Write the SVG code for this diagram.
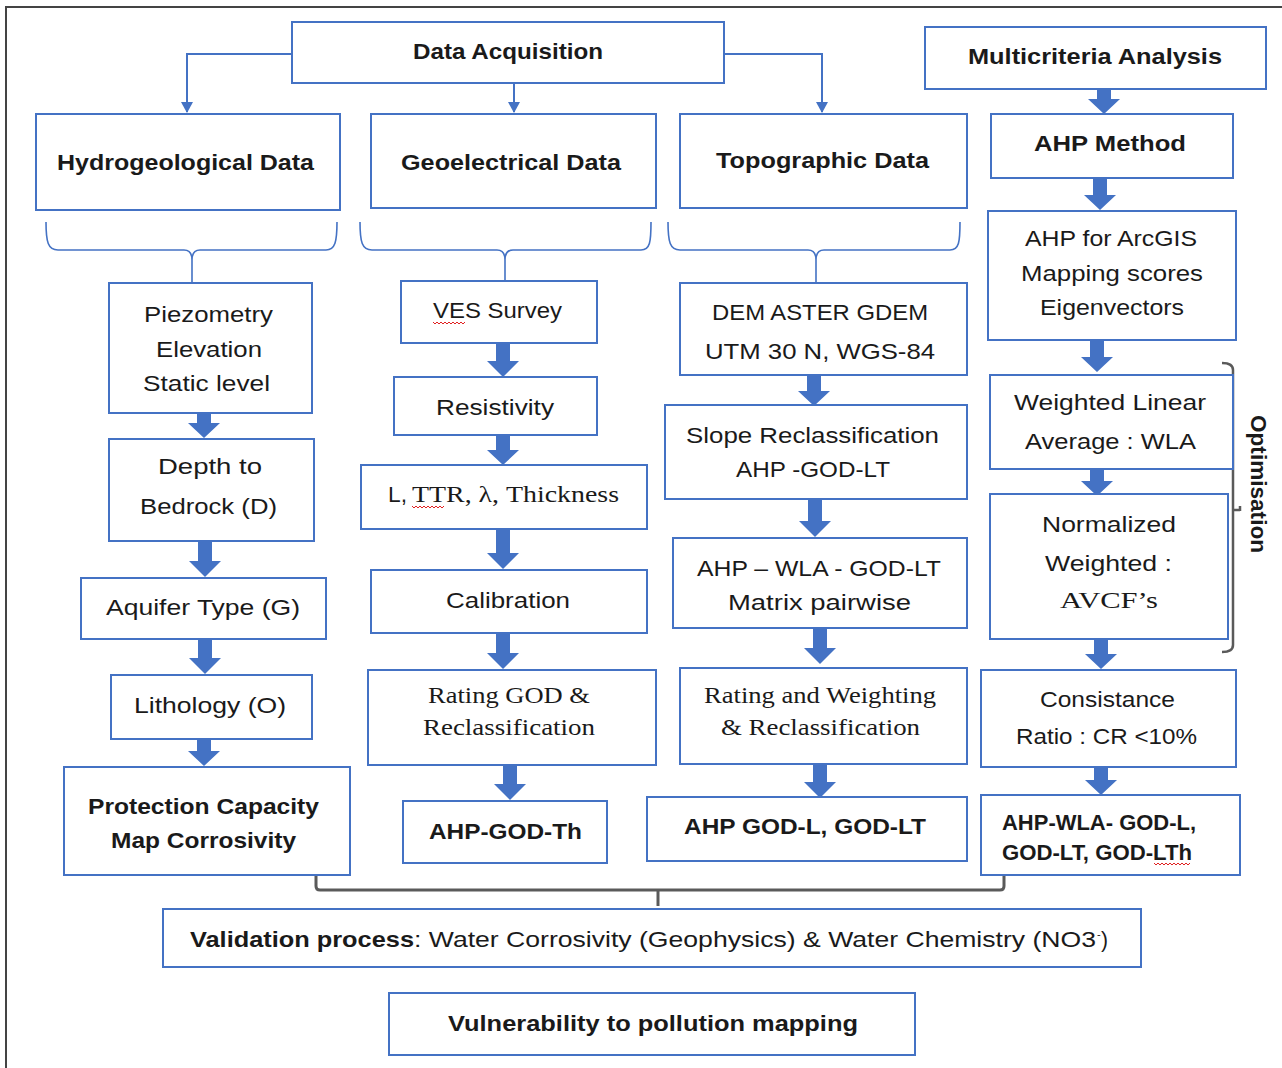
<svg xmlns="http://www.w3.org/2000/svg" width="1282" height="1068" viewBox="0 0 1282 1068">
<defs>
<style>
.box{fill:#fff;stroke:#4472C4;stroke-width:2}
.t{font-family:"Liberation Sans",Arial,sans-serif;font-size:22px;fill:#1a1a1a}
.b{font-weight:bold}
.s{font-family:"Liberation Serif","Times New Roman",serif;font-size:23px;fill:#1a1a1a}
.ba{fill:#4472C4}
.thin{fill:none;stroke:#4472C4;stroke-width:2}
.brace{fill:none;stroke:#4472C4;stroke-width:1.6}
.gray{fill:none;stroke:#5a5a5a;stroke-width:3;stroke-linejoin:round}
.sq{fill:none;stroke:#e02020;stroke-width:1}
</style>
<marker id="ah" markerWidth="12" markerHeight="12" refX="10" refY="6" orient="auto" markerUnits="userSpaceOnUse">
<path d="M0,0 L11,6 L0,12 Z" fill="#4472C4"/>
</marker>
</defs>
<rect width="1282" height="1068" fill="#fff"/>
<path d="M6,1068 L6,7 L1282,7" fill="none" stroke="#444" stroke-width="2"/>

<g id="connectors">
<path class="thin" d="M292,54 L187,54 L187,112" marker-end="url(#ah)"/>
<path class="thin" d="M514,84 L514,112" marker-end="url(#ah)"/>
<path class="thin" d="M724,54 L822,54 L822,112" marker-end="url(#ah)"/>
<path class="brace" d="M46,222 C46,242 48,250 58,250 L184,250 Q192,250 192,260 L192,283 M192,260 Q192,250 200,250 L326,250 C335,250 337,242 337,222"/>
<path class="brace" d="M360,222 C360,242 362,250 372,250 L497,250 Q505,250 505,260 L505,281 M505,260 Q505,250 513,250 L641,250 C650,250 651,242 651,222"/>
<path class="brace" d="M668,222 C668,242 670,250 680,250 L808,250 Q816,250 816,260 L816,283 M816,260 Q816,250 824,250 L950,250 C959,250 960,242 960,222"/>
<path class="ba" d="M1097,89 L1111,89 L1111,99 L1120,99 L1104,114 L1088,99 L1097,99 Z"/>
<path class="ba" d="M1093,178 L1107,178 L1107,195 L1116,195 L1100,210 L1084,195 L1093,195 Z"/>
<path class="ba" d="M1090,341 L1104,341 L1104,357 L1113,357 L1097,372 L1081,357 L1090,357 Z"/>
<path class="ba" d="M1090,469 L1104,469 L1104,481 L1113,481 L1097,496 L1081,481 L1090,481 Z"/>
<path class="ba" d="M1094,639 L1108,639 L1108,654 L1117,654 L1101,669 L1085,654 L1094,654 Z"/>
<path class="ba" d="M1094,767 L1108,767 L1108,780 L1117,780 L1101,795 L1085,780 L1094,780 Z"/>
<path class="ba" d="M197,413 L211,413 L211,423 L220,423 L204,438 L188,423 L197,423 Z"/>
<path class="ba" d="M198,541 L212,541 L212,561 L221,561 L205,577 L189,561 L198,561 Z"/>
<path class="ba" d="M198,639 L212,639 L212,658 L221,658 L205,674 L189,658 L198,658 Z"/>
<path class="ba" d="M197,739 L211,739 L211,751 L220,751 L204,766 L188,751 L197,751 Z"/>
<path class="ba" d="M496,343 L510,343 L510,361 L519,361 L503,377 L487,361 L496,361 Z"/>
<path class="ba" d="M496,435 L510,435 L510,450 L519,450 L503,465 L487,450 L496,450 Z"/>
<path class="ba" d="M496,529 L510,529 L510,553 L519,553 L503,569 L487,553 L496,553 Z"/>
<path class="ba" d="M496,633 L510,633 L510,653 L519,653 L503,669 L487,653 L496,653 Z"/>
<path class="ba" d="M503,765 L517,765 L517,784 L526,784 L510,800 L494,784 L503,784 Z"/>
<path class="ba" d="M807,375 L821,375 L821,391 L830,391 L814,406 L798,391 L807,391 Z"/>
<path class="ba" d="M808,499 L822,499 L822,521 L831,521 L815,537 L799,521 L808,521 Z"/>
<path class="ba" d="M813,628 L827,628 L827,648 L836,648 L820,664 L804,648 L813,648 Z"/>
<path class="ba" d="M813,764 L827,764 L827,782 L836,782 L820,798 L804,782 L813,782 Z"/>
<path class="gray" d="M316,875 L316,886 Q316,890 320,890 L1000,890 Q1004,890 1004,886 L1004,875"/>
<path class="gray" d="M658,890 L658,906"/>
<path fill="none" stroke="#5a5a5a" stroke-width="2.5" d="M1222,363 Q1233,363 1233,370 L1233,645 Q1233,652 1222,652 M1233,510 L1240,510 M1240,506 L1240,511"/>
</g>

<g id="data-acquisition"><rect class="box" x="292" y="22" width="432" height="61"/><text class="t b" x="413" y="59" textLength="190" lengthAdjust="spacingAndGlyphs">Data Acquisition</text></g>
<g id="multicriteria"><rect class="box" x="925" y="27" width="341" height="62"/><text class="t b" x="968" y="64" textLength="254" lengthAdjust="spacingAndGlyphs">Multicriteria  Analysis</text></g>
<g id="hydro"><rect class="box" x="36" y="114" width="304" height="96"/><text class="t b" x="57" y="170" textLength="257" lengthAdjust="spacingAndGlyphs">Hydrogeological  Data</text></g>
<g id="geoelec"><rect class="box" x="371" y="114" width="285" height="94"/><text class="t b" x="401" y="170" textLength="220" lengthAdjust="spacingAndGlyphs">Geoelectrical  Data</text></g>
<g id="topo"><rect class="box" x="680" y="114" width="287" height="94"/><text class="t b" x="716" y="168" textLength="213" lengthAdjust="spacingAndGlyphs">Topographic  Data</text></g>
<g id="ahp-method"><rect class="box" x="991" y="114" width="242" height="64"/><text class="t b" x="1034" y="151" textLength="152" lengthAdjust="spacingAndGlyphs">AHP Method</text></g>
<g id="ahp-arcgis"><rect class="box" x="988" y="211" width="248" height="129"/>
<text class="t" x="1025" y="246" textLength="172" lengthAdjust="spacingAndGlyphs">AHP for ArcGIS</text>
<text class="t" x="1021" y="281" textLength="182" lengthAdjust="spacingAndGlyphs">Mapping scores</text>
<text class="t" x="1040" y="315" textLength="144" lengthAdjust="spacingAndGlyphs">Eigenvectors</text></g>

<g id="piezometry"><rect class="box" x="109" y="283" width="203" height="130"/>
<text class="t" x="144" y="322" textLength="129" lengthAdjust="spacingAndGlyphs">Piezometry</text>
<text class="t" x="156" y="357" textLength="106" lengthAdjust="spacingAndGlyphs">Elevation</text>
<text class="t" x="143" y="391" textLength="127" lengthAdjust="spacingAndGlyphs">Static level</text></g>
<g id="depth"><rect class="box" x="109" y="439" width="205" height="102"/>
<text class="t" x="158" y="474" textLength="104" lengthAdjust="spacingAndGlyphs">Depth  to</text>
<text class="t" x="140" y="514" textLength="137" lengthAdjust="spacingAndGlyphs">Bedrock  (D)</text></g>
<g id="aquifer"><rect class="box" x="81" y="578" width="245" height="61"/><text class="t" x="106" y="615" textLength="194" lengthAdjust="spacingAndGlyphs">Aquifer Type  (G)</text></g>
<g id="lithology"><rect class="box" x="111" y="675" width="201" height="64"/><text class="t" x="134" y="713" textLength="152" lengthAdjust="spacingAndGlyphs">Lithology  (O)</text></g>
<g id="protection"><rect class="box" x="64" y="767" width="286" height="108"/>
<text class="t b" x="88" y="814" textLength="231" lengthAdjust="spacingAndGlyphs">Protection  Capacity</text>
<text class="t b" x="111" y="848" textLength="185" lengthAdjust="spacingAndGlyphs">Map Corrosivity</text></g>

<g id="ves"><rect class="box" x="401" y="281" width="196" height="62"/><text class="t" x="433" y="318" textLength="129" lengthAdjust="spacingAndGlyphs">VES Survey</text>
<path class="sq" d="M433,322 l2,2 l2,-2 l2,2 l2,-2 l2,2 l2,-2 l2,2 l2,-2 l2,2 l2,-2 l2,2 l2,-2 l2,2 l2,-2 l2,2 l2,-2"/></g>
<g id="resistivity"><rect class="box" x="394" y="377" width="203" height="58"/><text class="t" x="436" y="415" textLength="118" lengthAdjust="spacingAndGlyphs">Resistivity</text></g>
<g id="params"><rect class="box" x="361" y="465" width="286" height="64"/>
<text class="t" x="388" y="502" textLength="19" lengthAdjust="spacingAndGlyphs">L,</text>
<text class="s" x="412" y="502" textLength="207" lengthAdjust="spacingAndGlyphs">TTR, λ, Thickness</text>
<path class="sq" d="M412,506 l2,2 l2,-2 l2,2 l2,-2 l2,2 l2,-2 l2,2 l2,-2 l2,2 l2,-2 l2,2 l2,-2 l2,2 l2,-2 l2,2 l2,-2"/></g>
<g id="calibration"><rect class="box" x="371" y="570" width="276" height="63"/><text class="t" x="446" y="608" textLength="124" lengthAdjust="spacingAndGlyphs">Calibration</text></g>
<g id="rating-god"><rect class="box" x="368" y="670" width="288" height="95"/>
<text class="s" x="428" y="703" textLength="162" lengthAdjust="spacingAndGlyphs">Rating GOD &amp;</text>
<text class="s" x="423" y="735" textLength="172" lengthAdjust="spacingAndGlyphs">Reclassification</text></g>
<g id="ahp-god-th"><rect class="box" x="403" y="801" width="204" height="62"/><text class="t b" x="429" y="839" textLength="153" lengthAdjust="spacingAndGlyphs">AHP-GOD-Th</text></g>

<g id="dem"><rect class="box" x="680" y="283" width="287" height="92"/>
<text class="t" x="712" y="320" textLength="216" lengthAdjust="spacingAndGlyphs">DEM  ASTER GDEM</text>
<text class="t" x="705" y="359" textLength="230" lengthAdjust="spacingAndGlyphs">UTM 30 N, WGS-84</text></g>
<g id="slope"><rect class="box" x="665" y="405" width="302" height="94"/>
<text class="t" x="686" y="443" textLength="253" lengthAdjust="spacingAndGlyphs">Slope Reclassification</text>
<text class="t" x="736" y="477" textLength="154" lengthAdjust="spacingAndGlyphs">AHP -GOD-LT</text></g>
<g id="matrix"><rect class="box" x="673" y="538" width="294" height="90"/>
<text class="t" x="697" y="576" textLength="244" lengthAdjust="spacingAndGlyphs">AHP – WLA - GOD-LT</text>
<text class="t" x="728" y="610" textLength="183" lengthAdjust="spacingAndGlyphs">Matrix pairwise</text></g>
<g id="rating-weighting"><rect class="box" x="680" y="668" width="287" height="96"/>
<text class="s" x="704" y="703" textLength="232" lengthAdjust="spacingAndGlyphs">Rating and Weighting</text>
<text class="s" x="721" y="735" textLength="199" lengthAdjust="spacingAndGlyphs">&amp; Reclassification</text></g>
<g id="ahp-god-l"><rect class="box" x="647" y="797" width="320" height="64"/><text class="t b" x="684" y="834" textLength="242" lengthAdjust="spacingAndGlyphs">AHP GOD-L, GOD-LT</text></g>

<g id="wla"><rect class="box" x="990" y="375" width="243" height="94"/>
<text class="t" x="1014" y="410" textLength="192" lengthAdjust="spacingAndGlyphs">Weighted Linear</text>
<text class="t" x="1025" y="449" textLength="171" lengthAdjust="spacingAndGlyphs">Average : WLA</text></g>
<g id="normalized"><rect class="box" x="990" y="494" width="238" height="145"/>
<text class="t" x="1042" y="532" textLength="134" lengthAdjust="spacingAndGlyphs">Normalized</text>
<text class="t" x="1045" y="571" textLength="127" lengthAdjust="spacingAndGlyphs">Weighted  :</text>
<text class="s" x="1060" y="608" textLength="98" lengthAdjust="spacingAndGlyphs">AVCF’s</text></g>
<g id="consistance"><rect class="box" x="981" y="670" width="255" height="97"/>
<text class="t" x="1040" y="707" textLength="135" lengthAdjust="spacingAndGlyphs">Consistance</text>
<text class="t" x="1016" y="744" textLength="181" lengthAdjust="spacingAndGlyphs">Ratio : CR &lt;10%</text></g>
<g id="ahp-wla"><rect class="box" x="981" y="795" width="259" height="80"/>
<text class="t b" x="1002" y="830" textLength="194" lengthAdjust="spacingAndGlyphs">AHP-WLA- GOD-L,</text>
<text class="t b" x="1002" y="860" textLength="190" lengthAdjust="spacingAndGlyphs">GOD-LT, GOD-LTh</text>
<path class="sq" d="M1154,863 l2,2 l2,-2 l2,2 l2,-2 l2,2 l2,-2 l2,2 l2,-2 l2,2 l2,-2 l2,2 l2,-2 l2,2 l2,-2 l2,2 l2,-2 l2,2 l2,-2"/></g>

<g id="optimisation"><text class="t b" transform="translate(1251,484) rotate(90)" text-anchor="middle" fill="#333" textLength="138" lengthAdjust="spacingAndGlyphs">Optimisation</text></g>

<g id="validation"><rect class="box" x="163" y="909" width="978" height="58"/>
<text class="t b" x="190" y="947" textLength="224" lengthAdjust="spacingAndGlyphs">Validation process</text>
<text class="t" x="414" y="947" textLength="682" lengthAdjust="spacingAndGlyphs">: Water Corrosivity (Geophysics) &amp; Water Chemistry (NO3</text>
<text class="t" x="1097" y="938" style="font-size:11px">-</text>
<text class="t" x="1101" y="947" textLength="7" lengthAdjust="spacingAndGlyphs">)</text></g>
<g id="vulnerability"><rect class="box" x="389" y="993" width="526" height="62"/><text class="t b" x="448" y="1031" textLength="410" lengthAdjust="spacingAndGlyphs">Vulnerability  to pollution  mapping</text></g>
</svg>
